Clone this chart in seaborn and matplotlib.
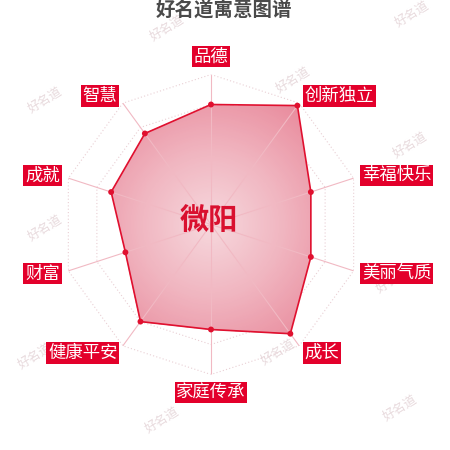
import numpy as np
import matplotlib
matplotlib.use("Agg")
import matplotlib.pyplot as plt
import seaborn as sns
import pandas as pd
from matplotlib.colors import LinearSegmentedColormap

# ---- data ----
categories = ["品德", "创新独立", "幸福快乐", "美丽气质", "成长",
              "家庭传承", "健康平安", "财富", "成就", "智慧"]
values = [80, 98, 70, 70, 90, 70, 80, 60, 70, 75]
max_value = 100
ring_levels = [20, 40, 60, 80, 100]
name_text = "微阳"
title_text = "好名道寓意图谱"
watermark_text = "好名道"
watermark_pos = [(167, 28), (412, 14), (293, 80), (410, 145), (45, 100),
                 (45, 228), (393, 280), (35, 356), (278, 352), (162, 420), (400, 408)]

sns.set_theme(style="white")
plt.rcParams['font.family'] = ['Noto Sans CJK SC', 'DejaVu Sans']

W = H = 450
fig = plt.figure(figsize=(4.5, 4.5), dpi=100)
fig.patch.set_facecolor("white")

# watermarks (behind everything)
for (wx, wy) in watermark_pos:
    fig.text(wx / W, 1 - wy / H, watermark_text, rotation=32, fontsize=9,
             color="#e8dadd", ha="center", va="center", zorder=-5,
             fontstyle="italic")

cx, cy, R = 211, 224.5, 150
ax = fig.add_axes([(cx - R) / W, (H - cy - R) / H, 2 * R / W, 2 * R / H],
                  projection="polar")
ax.set_zorder(1)
ax.set_facecolor("none")
ax.set_theta_offset(np.pi / 2)
ax.set_theta_direction(-1)
ax.set_ylim(0, max_value)
ax.set_xticks([])
ax.set_yticks([])
ax.grid(False)
ax.spines["polar"].set_visible(False)

n = len(categories)
theta = np.arange(n) * 2 * np.pi / n
theta_c = np.append(theta, theta[0])
vals_c = np.append(values, values[0])

# rings
for lv in ring_levels:
    ax.plot(theta_c, [lv] * (n + 1), color="#e9cfd4", lw=0.8,
            linestyle=(0, (1, 2)), zorder=1)

# gradient fill clipped to polygon
tg = np.linspace(0, 2 * np.pi, 181)
rg = np.linspace(0, max_value, 101)
T, Rr = np.meshgrid(tg, rg)
cmap = LinearSegmentedColormap.from_list("pinkgrad", ["#f6d8dd", "#f0b4bf", "#e8899b"])
mesh = ax.pcolormesh(T, Rr, Rr, cmap=cmap, vmin=0, vmax=max_value,
                     shading="auto", zorder=2)
poly = ax.fill(theta_c, vals_c, facecolor="none", edgecolor="none", zorder=2)[0]
mesh.set_clip_path(poly)

# spokes
for t in theta:
    ax.plot([t, t], [0, max_value], color="#f1b9c3", lw=0.8, zorder=3)

# outline and markers
ax.plot(theta_c, vals_c, color="#e0102f", lw=1.2, zorder=4)
df = pd.DataFrame({"theta": theta, "value": values})
sns.scatterplot(data=df, x="theta", y="value", ax=ax, color="#e0102f",
                s=18, edgecolor="none", zorder=5, legend=False)
ax.set_xlabel("")
ax.set_ylabel("")
ax.set_ylim(0, max_value)

# category labels
lab_r = 106
for t, lab in zip(theta, categories):
    s = np.sin(t)
    c = np.cos(t)
    if abs(s) < 1e-6:
        ha = "center"
        va = "bottom" if c > 0 else "top"
    else:
        ha = "left" if s > 0 else "right"
        va = "center"
    ax.text(t, lab_r, lab, ha=ha, va=va, fontsize=12.5, color="white",
            bbox=dict(boxstyle="square,pad=0.1", facecolor="#e3002b",
                      edgecolor="none"), zorder=6, clip_on=False)

# center name
ax.text(0, 0, name_text, ha="center", va="center", fontsize=21,
        fontweight="bold", color="#d9102f", zorder=7,
        transform=ax.transData + matplotlib.transforms.ScaledTranslation(
            -2 / 100, 3.5 / 100, fig.dpi_scale_trans))

# title
fig.text(224 / W, 1 - 10 / H, title_text, ha="center", va="center",
         fontsize=14, fontweight="bold", color="#4a4a4a")

fig.savefig("out.png", dpi=100, facecolor="white")
